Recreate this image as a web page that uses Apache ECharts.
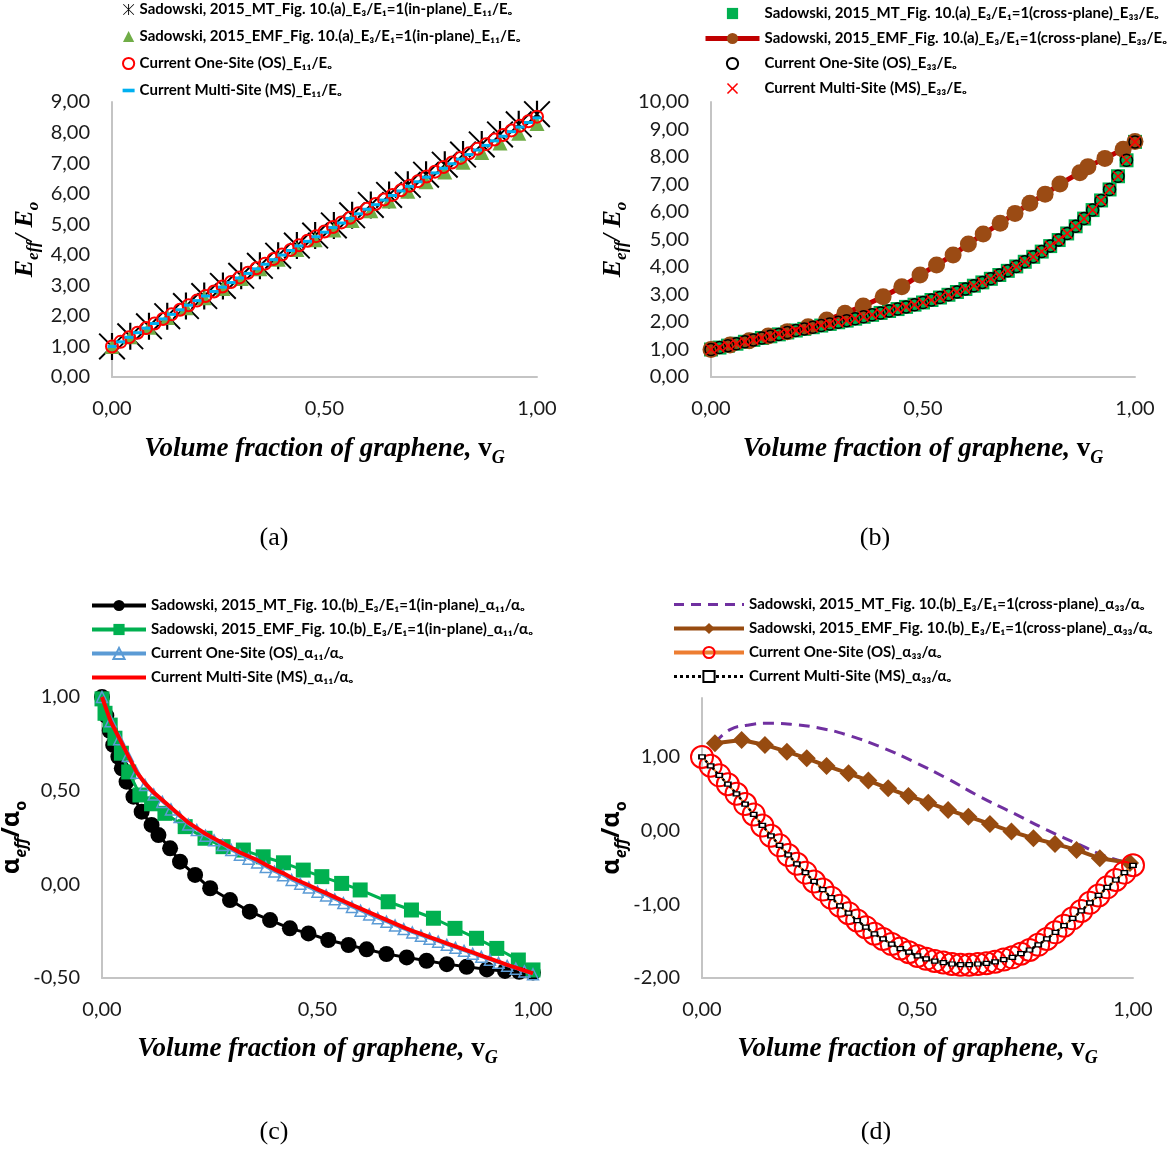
<!DOCTYPE html>
<html><head><meta charset="utf-8">
<script src="https://cdn.jsdelivr.net/npm/echarts@6/dist/echarts.min.js"></script>
<style>html,body{margin:0;padding:0;background:#fff}#c{width:1174px;height:1150px}</style>
</head><body><div id="c"></div>
<script>
// ---------- shared x grid (volume fraction) ----------
const vGrid = [0,0.02,0.04,0.06,0.08,0.1,0.12,0.14,0.16,0.18,0.2,0.22,0.24,0.26,0.28,0.3,0.32,0.34,0.36,0.38,0.4,0.42,0.44,0.46,0.48,0.5,0.52,0.54,0.56,0.58,0.6,0.62,0.64,0.66,0.68,0.7,0.72,0.74,0.76,0.78,0.8,0.82,0.84,0.86,0.88,0.9,0.92,0.94,0.96,0.98,1];

// ---------- panel (a) ----------
const aNames = ['Sadowski, 2015_MT_Fig. 10.(a)_E₃/E₁=1(in-plane)_E₁₁/Eₒ','Sadowski, 2015_EMF_Fig. 10.(a)_E₃/E₁=1(in-plane)_E₁₁/Eₒ','Current One-Site (OS)_E₁₁/Eₒ','Current Multi-Site (MS)_E₁₁/Eₒ'];
const aSadV = [0,0.043,0.087,0.13,0.174,0.217,0.261,0.304,0.348,0.391,0.435,0.478,0.522,0.565,0.609,0.652,0.696,0.739,0.783,0.826,0.87,0.913,0.957,1];
const aMT = [1.00,1.33,1.66,1.99,2.32,2.65,2.98,3.31,3.64,3.97,4.30,4.63,4.96,5.29,5.63,5.96,6.29,6.62,6.95,7.28,7.61,7.94,8.27,8.60];
const aEMF = [1.00,1.32,1.63,1.95,2.27,2.59,2.90,3.22,3.54,3.85,4.17,4.49,4.81,5.12,5.44,5.76,6.08,6.39,6.71,7.03,7.35,7.66,7.98,8.30];
const aOS = [1.00,1.15,1.30,1.45,1.60,1.75,1.90,2.05,2.20,2.35,2.50,2.65,2.80,2.96,3.11,3.26,3.41,3.56,3.71,3.86,4.01,4.16,4.31,4.46,4.61,4.76,4.91,5.06,5.21,5.36,5.51,5.66,5.81,5.96,6.11,6.26,6.41,6.56,6.72,6.87,7.02,7.17,7.32,7.47,7.62,7.77,7.92,8.07,8.22,8.37,8.52];
const aMS = [1.00,1.15,1.30,1.45,1.60,1.75,1.90,2.05,2.20,2.35,2.50,2.65,2.80,2.94,3.09,3.24,3.39,3.54,3.69,3.84,3.99,4.14,4.29,4.44,4.59,4.74,4.89,5.04,5.19,5.34,5.49,5.64,5.79,5.94,6.09,6.24,6.39,6.54,6.68,6.83,6.98,7.13,7.28,7.43,7.58,7.73,7.88,8.03,8.18,8.33,8.48];

// ---------- panel (b) ----------
const bNames = ['Sadowski, 2015_MT_Fig. 10.(a)_E₃/E₁=1(cross-plane)_E₃₃/Eₒ','Sadowski, 2015_EMF_Fig. 10.(a)_E₃/E₁=1(cross-plane)_E₃₃/Eₒ','Current One-Site (OS)_E₃₃/Eₒ','Current Multi-Site (MS)_E₃₃/Eₒ'];
const bMT = [1.00,1.07,1.14,1.21,1.28,1.35,1.42,1.48,1.55,1.62,1.69,1.75,1.81,1.87,1.93,1.99,2.05,2.12,2.19,2.26,2.33,2.40,2.47,2.55,2.63,2.71,2.80,2.89,2.99,3.09,3.20,3.32,3.44,3.57,3.71,3.86,4.02,4.19,4.37,4.56,4.76,4.98,5.22,5.48,5.76,6.07,6.42,6.82,7.30,7.88,8.55];
const bEMFv = [0,0.045,0.09,0.135,0.18,0.229,0.273,0.316,0.359,0.406,0.45,0.493,0.532,0.571,0.607,0.642,0.682,0.717,0.752,0.788,0.823,0.87,0.889,0.929,0.972,1.0];
const bEMF = [1.00,1.16,1.32,1.49,1.65,1.83,2.07,2.32,2.58,2.92,3.28,3.71,4.07,4.44,4.84,5.20,5.59,5.95,6.32,6.65,7.02,7.43,7.65,7.95,8.28,8.56];
const bOS = [1.00,1.07,1.14,1.21,1.28,1.35,1.42,1.48,1.55,1.62,1.69,1.75,1.81,1.87,1.93,1.99,2.05,2.12,2.19,2.26,2.33,2.40,2.47,2.55,2.63,2.71,2.80,2.89,2.99,3.09,3.20,3.32,3.44,3.57,3.71,3.86,4.02,4.19,4.37,4.56,4.76,4.98,5.22,5.48,5.76,6.07,6.42,6.82,7.30,7.88,8.55];
const bMS = [1.00,1.07,1.14,1.21,1.28,1.35,1.42,1.48,1.55,1.62,1.69,1.75,1.81,1.87,1.93,1.99,2.05,2.12,2.19,2.26,2.33,2.40,2.47,2.55,2.63,2.71,2.80,2.89,2.99,3.09,3.20,3.32,3.44,3.57,3.71,3.86,4.02,4.19,4.37,4.56,4.76,4.98,5.22,5.48,5.76,6.07,6.42,6.82,7.30,7.88,8.55];

// ---------- panel (c) ----------
const cNames = ['Sadowski, 2015_MT_Fig. 10.(b)_E₃/E₁=1(in-plane)_α₁₁/αₒ','Sadowski, 2015_EMF_Fig. 10.(b)_E₃/E₁=1(in-plane)_α₁₁/αₒ','Current One-Site (OS)_α₁₁/αₒ','Current Multi-Site (MS)_α₁₁/αₒ'];
const cMTv = [0,0.01,0.018,0.026,0.038,0.046,0.057,0.073,0.092,0.115,0.131,0.158,0.181,0.216,0.251,0.297,0.343,0.39,0.436,0.479,0.525,0.572,0.614,0.66,0.707,0.753,0.8,0.846,0.893,0.935,0.968,1.0];
const cMT = [1.0,0.90,0.82,0.744,0.681,0.619,0.548,0.468,0.388,0.317,0.263,0.192,0.121,0.05,-0.021,-0.084,-0.146,-0.191,-0.235,-0.262,-0.297,-0.324,-0.347,-0.372,-0.39,-0.408,-0.426,-0.44,-0.454,-0.462,-0.467,-0.47];
const cEMFv = [0,0.007,0.019,0.03,0.045,0.062,0.088,0.115,0.146,0.193,0.239,0.281,0.328,0.374,0.421,0.467,0.51,0.556,0.599,0.664,0.718,0.769,0.819,0.869,0.916,0.966,1.0];
const cEMF = [0.99,0.913,0.85,0.78,0.70,0.60,0.477,0.43,0.379,0.308,0.246,0.201,0.183,0.147,0.115,0.076,0.041,0.005,-0.03,-0.093,-0.137,-0.181,-0.235,-0.288,-0.342,-0.404,-0.457];
const cOS = [1.00,0.87,0.775,0.685,0.595,0.53,0.48,0.44,0.40,0.36,0.32,0.29,0.26,0.235,0.21,0.183,0.158,0.137,0.117,0.093,0.068,0.048,0.023,0.003,-0.017,-0.039,-0.059,-0.08,-0.1,-0.121,-0.141,-0.161,-0.181,-0.2,-0.22,-0.239,-0.257,-0.274,-0.29,-0.306,-0.323,-0.339,-0.355,-0.371,-0.387,-0.403,-0.419,-0.435,-0.45,-0.465,-0.48];
const cMS = [1.00,0.87,0.78,0.69,0.60,0.54,0.49,0.45,0.41,0.37,0.33,0.30,0.27,0.245,0.22,0.195,0.17,0.15,0.13,0.105,0.08,0.06,0.035,0.015,-0.005,-0.027,-0.047,-0.068,-0.089,-0.11,-0.13,-0.15,-0.17,-0.19,-0.21,-0.23,-0.248,-0.265,-0.282,-0.298,-0.315,-0.331,-0.347,-0.363,-0.38,-0.397,-0.413,-0.43,-0.445,-0.46,-0.475];

// ---------- panel (d) ----------
const dNames = ['Sadowski, 2015_MT_Fig. 10.(b)_E₃/E₁=1(cross-plane)_α₃₃/αₒ','Sadowski, 2015_EMF_Fig. 10.(b)_E₃/E₁=1(cross-plane)_α₃₃/αₒ','Current One-Site (OS)_α₃₃/αₒ','Current Multi-Site (MS)_α₃₃/αₒ'];
const dMTv = [0.03,0.065,0.104,0.158,0.212,0.274,0.336,0.413,0.491,0.568,0.645,0.723,0.8,0.877,0.939,0.993];
const dMT = [1.19,1.37,1.43,1.457,1.44,1.39,1.30,1.14,0.936,0.71,0.46,0.236,0.01,-0.194,-0.353,-0.44];
const dEMFv = [0.03,0.092,0.146,0.197,0.243,0.289,0.34,0.386,0.432,0.479,0.525,0.571,0.618,0.668,0.718,0.769,0.819,0.869,0.923,0.993];
const dEMF = [1.186,1.231,1.163,1.072,0.982,0.878,0.778,0.679,0.575,0.471,0.38,0.281,0.19,0.091,-0.013,-0.103,-0.18,-0.262,-0.375,-0.44];
const dOS = [1.00,0.88,0.75,0.63,0.50,0.36,0.22,0.07,-0.07,-0.20,-0.33,-0.45,-0.57,-0.69,-0.80,-0.91,-1.02,-1.12,-1.22,-1.31,-1.40,-1.47,-1.54,-1.60,-1.65,-1.70,-1.74,-1.77,-1.79,-1.81,-1.82,-1.82,-1.81,-1.80,-1.78,-1.75,-1.72,-1.67,-1.62,-1.55,-1.47,-1.38,-1.29,-1.19,-1.09,-0.98,-0.88,-0.77,-0.67,-0.57,-0.47];
const dMS = [1.00,0.88,0.75,0.63,0.50,0.36,0.22,0.07,-0.07,-0.20,-0.33,-0.45,-0.57,-0.69,-0.80,-0.91,-1.02,-1.12,-1.22,-1.31,-1.40,-1.47,-1.54,-1.60,-1.65,-1.70,-1.74,-1.77,-1.79,-1.81,-1.82,-1.82,-1.81,-1.80,-1.78,-1.75,-1.72,-1.67,-1.62,-1.55,-1.47,-1.38,-1.29,-1.19,-1.09,-0.98,-0.88,-0.77,-0.67,-0.57,-0.47];

// ---------- caption text ----------
const captions = ['(a)','(b)','(c)','(d)'];

// ---------- helpers ----------
const pts = (xs, ys) => xs.map((x, i) => [x, ys[i]]);
const fmt = v => v.toFixed(2).replace('.', ',');
const ASTER = 'path://M1,0L20,19L19,20L0,1Z M0,19L19,0L20,1L1,20Z M9.2,0L10.8,0L10.8,20L9.2,20Z';
const XMARK = 'path://M2,0L10,8L18,0L20,2L12,10L20,18L18,20L10,12L2,20L0,18L8,10L0,2Z';
const DASH = 'path://M0,0L10,0L10,3L0,3Z';
const SERIF = 'Liberation Serif';
const HIDE = {color: 'rgba(0,0,0,0)', borderWidth: 0};

const xNameStyle = {
  rich: {
    t: {fontFamily: SERIF, fontStyle: 'italic', fontWeight: 'bold', fontSize: 27, lineHeight: 27, verticalAlign: 'top', color: '#000'},
    v: {fontFamily: SERIF, fontWeight: 'bold', fontSize: 27, lineHeight: 27, verticalAlign: 'top', color: '#000'},
    g: {fontFamily: SERIF, fontStyle: 'italic', fontWeight: 'bold', fontSize: 18, lineHeight: 31, verticalAlign: 'bottom', color: '#000'}
  }
};
const xName = '{t|Volume fraction of graphene, }{v|v}{g|G}';
const eNameStyle = {
  rich: {
    e: {fontFamily: SERIF, fontStyle: 'italic', fontWeight: 'bold', fontSize: 26, lineHeight: 26, verticalAlign: 'top', color: '#000'},
    s: {fontFamily: SERIF, fontStyle: 'italic', fontWeight: 'bold', fontSize: 17, lineHeight: 30, verticalAlign: 'bottom', color: '#000'}
  }
};
const eName = '{e|E}{s|eff}{e|/ E}{s|o}';
const aNameStyle = {
  rich: {
    a: {fontFamily: 'Noto Sans', fontWeight: 'bold', fontSize: 25, lineHeight: 25, verticalAlign: 'top', color: '#000'},
    s: {fontFamily: 'Noto Sans', fontStyle: 'italic', fontWeight: 'bold', fontSize: 16, lineHeight: 30, verticalAlign: 'bottom', color: '#000'},
    o: {fontFamily: 'Noto Sans', fontWeight: 'bold', fontSize: 16, lineHeight: 30, verticalAlign: 'bottom', color: '#000'}
  }
};
const alphaName = '{a|α}{s|eff}{a|/α}{o|o}';

const axisLine = {onZero: false, lineStyle: {color: '#c4c4c4', width: 2}};
const lbl = (margin) => ({margin, fontFamily: 'Lato', fontSize: 20, color: '#1a1a1a', formatter: fmt});

function xAx(gi, gap) {
  return {type: 'value', gridIndex: gi, min: 0, max: 1, interval: 0.5, axisLine, axisTick: {show: false},
    splitLine: {show: false}, axisLabel: lbl(22), name: xName, nameLocation: 'middle', nameGap: gap, nameTextStyle: xNameStyle};
}
function yAx(gi, min, max, interval, name, nameStyle, gap, showMax) {
  const l = lbl(22); l.showMaxLabel = showMax;
  return {type: 'value', gridIndex: gi, min, max, interval, axisLine, axisTick: {show: false},
    splitLine: {show: false}, axisLabel: l, name, nameLocation: 'middle', nameRotate: 90, nameGap: gap, nameTextStyle: nameStyle};
}

const base = (name, gi, z, data) => ({name, type: 'line', xAxisIndex: gi, yAxisIndex: gi, z, data, clip: false, animation: false,
  emphasis: {disabled: true}});

const series = [
  // (a)
  Object.assign(base(aNames[0], 0, 2, pts(aSadV, aMT)), {symbol: ASTER, symbolSize: 27, itemStyle: {color: '#000'}, lineStyle: {width: 0}}),
  Object.assign(base(aNames[1], 0, 3, pts(aSadV, aEMF)), {symbol: 'triangle', symbolSize: 15, itemStyle: {color: '#70ad47'}, lineStyle: {width: 0}}),
  Object.assign(base(aNames[2], 0, 4, pts(vGrid, aOS)), {symbol: 'circle', symbolSize: 12, itemStyle: {color: 'rgba(255,255,255,0)', borderColor: '#ff0000', borderWidth: 2}, lineStyle: {width: 0}}),
  Object.assign(base(aNames[3], 0, 5, pts(vGrid, aMS)), {symbol: 'rect', symbolSize: [9, 3], itemStyle: {color: '#00b0f0'}, lineStyle: {width: 0}}),
  // (b)
  Object.assign(base(bNames[0], 1, 2, pts(vGrid, bMT)), {symbol: 'rect', symbolSize: 14, itemStyle: {color: '#00b050'}, lineStyle: {width: 0}}),
  Object.assign(base(bNames[1], 1, 3, pts(bEMFv, bEMF)), {symbol: 'circle', symbolSize: 17, itemStyle: {color: '#9b4b14'}, lineStyle: {width: 5, color: '#c00000'}}),
  Object.assign(base(bNames[2], 1, 4, pts(vGrid, bOS)), {symbol: 'circle', symbolSize: 12, itemStyle: {color: 'rgba(255,255,255,0)', borderColor: '#000', borderWidth: 1.5}, lineStyle: {width: 0}}),
  Object.assign(base(bNames[3], 1, 5, pts(vGrid, bMS)), {symbol: XMARK, symbolSize: 11, itemStyle: {color: '#ff0000'}, lineStyle: {width: 0}}),
  // (c)
  Object.assign(base(cNames[0], 2, 2, pts(cMTv, cMT)), {symbol: 'circle', symbolSize: 16, itemStyle: {color: '#000'}, lineStyle: {width: 3, color: '#000'}}),
  Object.assign(base(cNames[1], 2, 3, pts(cEMFv, cEMF)), {symbol: 'rect', symbolSize: 15, itemStyle: {color: '#00b050'}, lineStyle: {width: 3, color: '#00b050'}}),
  Object.assign(base(cNames[2], 2, 4, pts(vGrid, cOS)), {symbol: 'triangle', symbolSize: 11, itemStyle: {color: 'rgba(255,255,255,0)', borderColor: '#5b9bd5', borderWidth: 1.5}, lineStyle: {width: 2.5, color: '#5b9bd5'}}),
  Object.assign(base(cNames[3], 2, 5, pts(vGrid, cMS)), {symbol: 'none', itemStyle: {color: '#ff0000'}, lineStyle: {width: 4, color: '#ff0000'}}),
  // (d)
  Object.assign(base(dNames[0], 3, 2, pts(dMTv, dMT)), {symbol: 'none', smooth: true, itemStyle: {color: '#7030a0'}, lineStyle: {width: 3, color: '#7030a0', type: [11, 7]}}),
  Object.assign(base(dNames[1], 3, 3, pts(dEMFv, dEMF)), {symbol: 'diamond', symbolSize: 18, itemStyle: {color: '#974b10'}, lineStyle: {width: 4, color: '#974b10'}}),
  Object.assign(base(dNames[2], 3, 4, pts(vGrid, dOS)), {symbol: 'circle', symbolSize: 22, itemStyle: {color: 'rgba(255,255,255,0)', borderColor: '#ff0000', borderWidth: 2}, lineStyle: {width: 2, color: '#ed7d31'}}),
  Object.assign(base(dNames[3], 3, 5, pts(vGrid, dMS)), {symbol: 'rect', symbolSize: [6, 4], itemStyle: {color: '#fff', borderColor: '#000', borderWidth: 1.5}, lineStyle: {width: 2.5, color: '#000', type: 'dotted'}})
];

const legText = {fontFamily: 'Lato', fontWeight: 'bold', fontSize: 15, color: '#000'};
const leg = (left, top, itemWidth, itemGap, data) => ({orient: 'vertical', left, top, padding: 0, itemWidth, itemHeight: 14, itemGap,
  selectedMode: false, textStyle: legText, data});

const option = {
  backgroundColor: '#fff',
  animation: false,
  grid: [
    {left: 112, top: 102, width: 425, height: 275, outerBoundsMode: 'none'},
    {left: 711, top: 102, width: 424, height: 275, outerBoundsMode: 'none'},
    {left: 102, top: 697, width: 431, height: 281, outerBoundsMode: 'none'},
    {left: 702, top: 698, width: 431, height: 280, outerBoundsMode: 'none'}
  ],
  xAxis: [xAx(0, 59), xAx(1, 59), xAx(2, 58), xAx(3, 58)],
  yAxis: [
    yAx(0, 0, 9, 1, eName, eNameStyle, 70, true),
    yAx(1, 0, 10, 1, eName, eNameStyle, 81, true),
    yAx(2, -0.5, 1, 0.5, alphaName, aNameStyle, 68, true),
    yAx(3, -2, 1.8, 1, alphaName, aNameStyle, 68, false)
  ],
  legend: [
    leg(122, 2, 12, 12, [aNames[0], aNames[1], aNames[2], {name: aNames[3], icon: DASH}]),
    leg(703, 6, 54, 10, [bNames[0], {name: bNames[1], lineStyle: {width: 5}}, bNames[2], bNames[3]]),
    leg(90, 598, 54, 9, [{name: cNames[0], lineStyle: {width: 4}}, {name: cNames[1], lineStyle: {width: 4}}, {name: cNames[2], lineStyle: {width: 4}}, {name: cNames[3], lineStyle: {width: 4}, itemStyle: HIDE}]),
    leg(672, 597, 70, 9, [{name: dNames[0], lineStyle: {width: 3, type: [10, 7]}, itemStyle: HIDE}, {name: dNames[1], lineStyle: {width: 4}}, {name: dNames[2], lineStyle: {width: 4}}, {name: dNames[3], lineStyle: {width: 3, type: 'dotted'}}])
  ],
  graphic: [
    {type: 'text', x: 274, y: 538, style: {text: captions[0], font: '26px "Liberation Serif"', fill: '#000', textAlign: 'center', textVerticalAlign: 'middle'}},
    {type: 'text', x: 875, y: 538, style: {text: captions[1], font: '26px "Liberation Serif"', fill: '#000', textAlign: 'center', textVerticalAlign: 'middle'}},
    {type: 'text', x: 274, y: 1132, style: {text: captions[2], font: '26px "Liberation Serif"', fill: '#000', textAlign: 'center', textVerticalAlign: 'middle'}},
    {type: 'text', x: 876, y: 1132, style: {text: captions[3], font: '26px "Liberation Serif"', fill: '#000', textAlign: 'center', textVerticalAlign: 'middle'}}
  ],
  series
};
const chart = echarts.init(document.getElementById('c'), null, {renderer: 'canvas'});
chart.setOption(option);
</script>
</body></html>
